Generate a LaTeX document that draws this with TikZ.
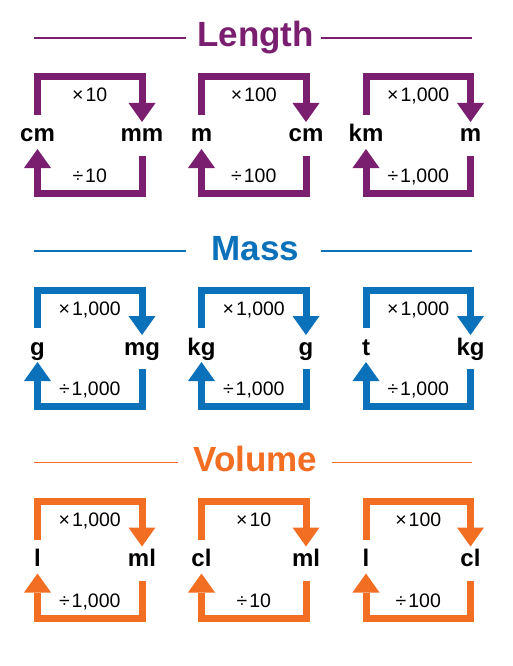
\documentclass[tikz,border=0pt]{standalone}
\usepackage{fontspec}
\setmainfont{Liberation Sans}
\usetikzlibrary{arrows.meta}
\definecolor{inklength}{HTML}{7A1F6F}
\definecolor{inkmass}{HTML}{0B71BA}
\definecolor{inkvolume}{HTML}{F26E22}
\tikzset{
  loopline/.style={line width=7pt,
    -{Triangle[width=27pt, length=19pt, line width=0pt]}},
  unit/.style={font=\fontsize{24}{26}\selectfont\bfseries,
    anchor=base, inner sep=0pt},
  factor/.style={font=\fontsize{19.5}{21}\selectfont,
    anchor=base, inner sep=0pt},
  heading/.style={font=\fontsize{35}{38}\selectfont\bfseries,
    anchor=base, inner sep=0pt},
  sideline/.style={line width=1.5pt}}
\newcommand{\convbox}[8]{%
  \node[unit] (#1-from) at (#2, #3+65) {#5};
  \node[unit] (#1-to) at (#2+104.5, #3+65) {#6};
  \node[factor] (#1-times) at (#2+52.25, #3+25) {×\hspace{2pt}#7};
  \node[factor] (#1-div) at (#2+52.25, #3+105.5) {÷\hspace{2pt}#7};
  \coordinate (#1-a) at (#2, #3+38);
  \coordinate (#1-tr) at (#2+104.5, #3);
  \coordinate (#1-b) at (#2+104.5, #3+45);
  \coordinate (#1-c) at (#2+104.5, #3+79);
  \coordinate (#1-bl) at (#2, #3+116.5);
  \coordinate (#1-d) at (#2, #3+72);
  \draw[loopline, #4] (#1-a) |- (#1-tr) -- (#1-b);
  \draw[loopline, #4] (#1-c) |- (#1-bl) -- (#1-d);}

\begin{document}
\begin{tikzpicture}[x=1pt, y=-1pt]
  \useasboundingbox (0,0) rectangle (512,666);
  \foreach \name/\title/\col/\T/\le/\rs in {len/Length/inklength/77/186/321,
      mass/Mass/inkmass/290/186/321, vol/Volume/inkvolume/501.5/178/332}{%
    \node[heading, text=\col] (\name-title) at (255.5, \T-30) {\title};
    \draw[sideline, \col] (34, \T-39) -- (\le, \T-39);
    \draw[sideline, \col] (\rs, \T-39) -- (472, \T-39);}
  \convbox{len1}{37.5}{77}{inklength}{cm}{mm}{10}{10}
  \convbox{len2}{201.5}{77}{inklength}{m}{cm}{100}{100}
  \convbox{len3}{366}{77}{inklength}{km}{m}{1,000}{1,000}
  \convbox{mass1}{37.5}{290}{inkmass}{g}{mg}{1,000}{1,000}
  \convbox{mass2}{201.5}{290}{inkmass}{kg}{g}{1,000}{1,000}
  \convbox{mass3}{366}{290}{inkmass}{t}{kg}{1,000}{1,000}
  \convbox{vol1}{37.5}{501.5}{inkvolume}{l}{ml}{1,000}{1,000}
  \convbox{vol2}{201.5}{501.5}{inkvolume}{cl}{ml}{10}{10}
  \convbox{vol3}{366}{501.5}{inkvolume}{l}{cl}{100}{100}
\end{tikzpicture}
\end{document}
